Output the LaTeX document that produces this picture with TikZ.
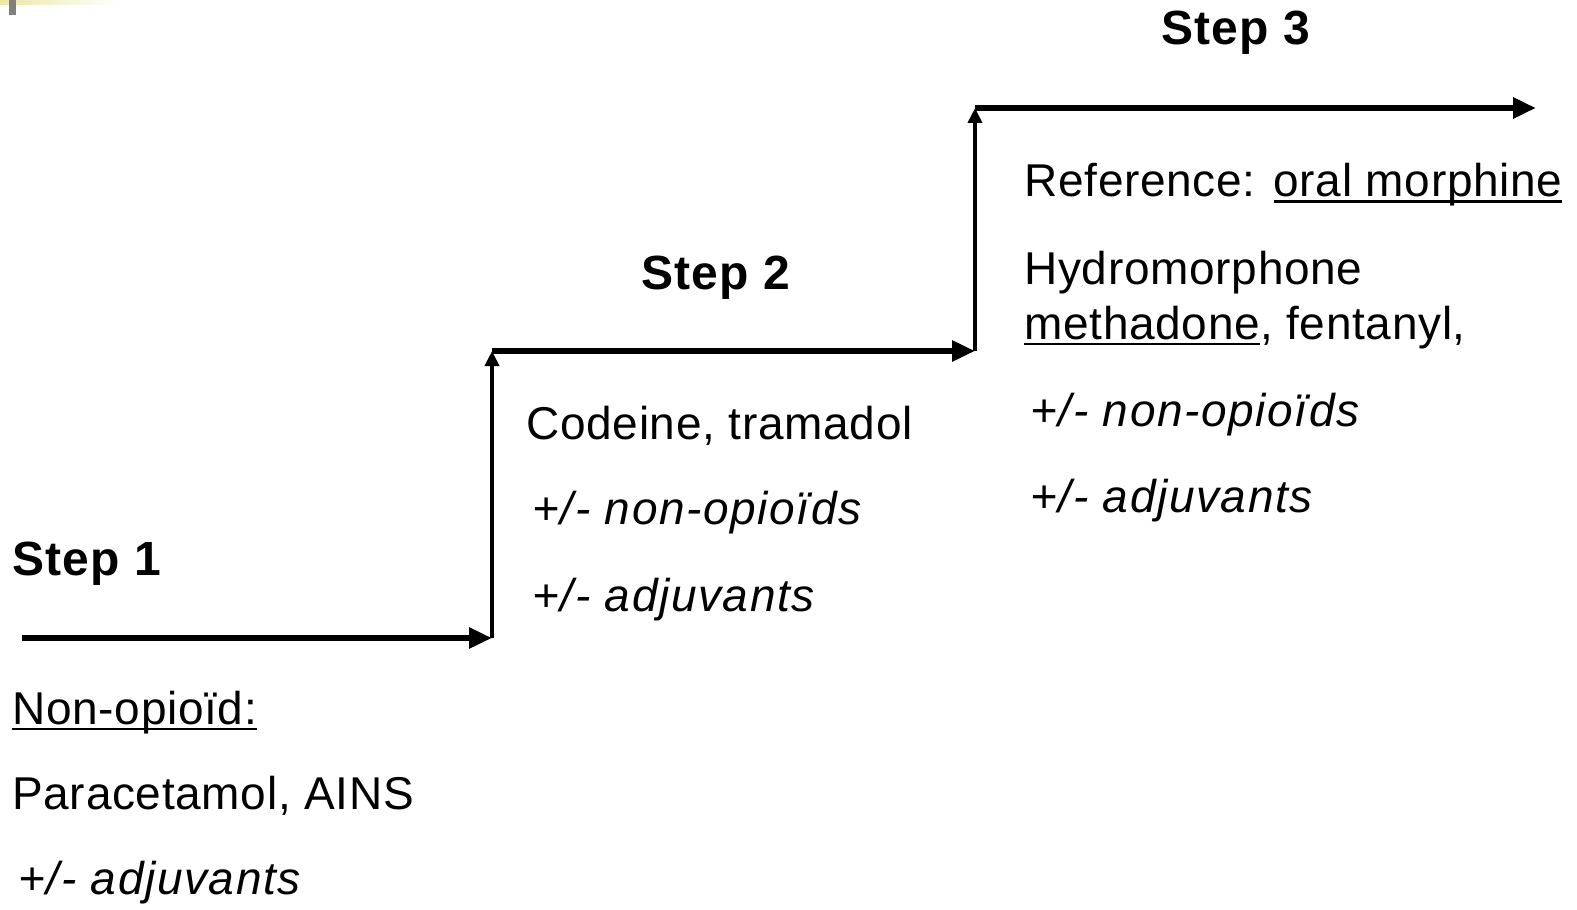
\documentclass[tikz,border=0pt]{standalone}
\usepackage{fontspec}
\setmainfont{Liberation Sans}
\usetikzlibrary{arrows.meta, positioning}
\definecolor{slidebar}{HTML}{EBE8A6}
\definecolor{slidemark}{HTML}{808080}
\newcommand{\undl}[1]{\setbox0\hbox{#1}\rlap{\rule[-3pt]{\wd0}{1.25pt}}\box0}

\begin{document}
\begin{tikzpicture}[x=0.5pt, y=-0.5pt,
    txt/.style={anchor=base west, inner sep=0pt, font=\fontsize{23}{27}\selectfont\addfontfeatures{LetterSpace=1.5}},
    itxt/.style={anchor=base west, inner sep=0pt, font=\fontsize{23}{27}\selectfont\itshape\addfontfeatures{LetterSpace=3.5}},
    stepname/.style={anchor=base west, inner sep=0pt, font=\fontsize{24}{28}\selectfont\bfseries\addfontfeatures{LetterSpace=2.5}},
    tread/.style={line width=3pt, -{Triangle[length=11.5pt, width=10pt]}},
    riser/.style={line width=2pt, -{Triangle[length=7.5pt, width=7pt]}}]
    \useasboundingbox (0,0) rectangle (1577,909);

    % Slide decoration in the corner
    \shade[left color=slidebar, right color=white] (0,0) rectangle (120,5);
    \fill[slidemark] (9,0) rectangle (16,15);

    % Corners of the staircase
    \coordinate (s1a) at (22,638);
    \coordinate (s1b) at (492,638);
    \coordinate (s2a) at (492,351);
    \coordinate (s2b) at (975,351);
    \coordinate (s3a) at (975,108);
    \coordinate (s3b) at (1536,108);

    % Draw the steps
    \draw[tread] (s1a) -- (s1b);
    \draw[riser] (s1b) -- (s2a);
    \draw[tread] (s2a) -- (s2b);
    \draw[riser] (s2b) -- (s3a);
    \draw[tread] (s3a) -- (s3b);

    % Step 1
    \node[stepname] (step1) at (12,575) {Step 1};
    \node[txt] (nonop) at (12,724) {\undl{Non-opioïd:}};
    \node[txt] (para) at (12,809) {Paracetamol, AINS};
    \node[itxt] (adj1) at (18,894) {+/- adjuvants};

    % Step 2
    \node[stepname] (step2) at (641,289) {Step 2};
    \node[txt] (codeine) at (526,439) {Codeine, tramadol};
    \node[itxt] (nonop2) at (532,524) {+/- non-opioïds};
    \node[itxt] (adj2) at (532,611) {+/- adjuvants};

    % Step 3
    \node[stepname] (step3) at (1161,45) {Step 3};
    \node[txt] (ref) at (1024,197) {Reference: \undl{oral morphine}};
    \node[txt] (hydro) at (1024,284) {Hydromorphone};
    \node[txt] (metha) at (1024,339) {\undl{methadone}, fentanyl,};
    \node[itxt] (nonop3) at (1030,426) {+/- non-opioïds};
    \node[itxt] (adj3) at (1030,512) {+/- adjuvants};
\end{tikzpicture}
\end{document}
